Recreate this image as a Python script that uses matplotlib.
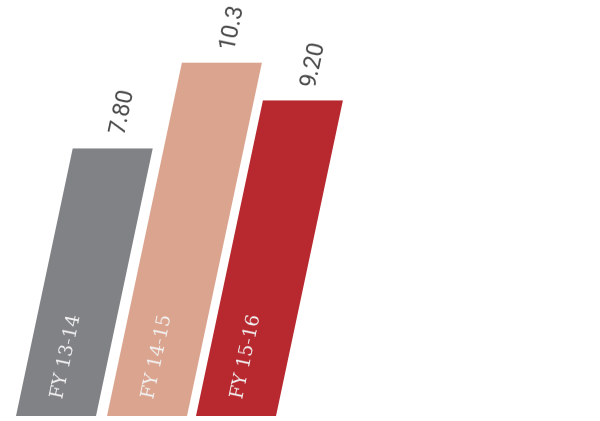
import numpy as np
import matplotlib
matplotlib.use('Agg')
from matplotlib import pyplot as plt

# fiscal years and their values
years = ['FY 13-14', 'FY 14-15', 'FY 15-16']
values = [7.80, 10.3, 9.20]
colors = ['#818286', '#dba48f', '#b8282f']

fig = plt.figure(figsize=(6, 4.21), dpi=100)
ax = fig.add_axes([0, 0, 1, 1])

px = 34.3            # pixels per unit of value
ax.set_xlim(0, 600)
ax.set_ylim(-5 / px, 416 / px)
ax.axis('off')

lefts = [16, 107, 196]   # bottom-left corner of each bar, in pixels
width = 80
slant = 0.212 * px       # horizontal shift per unit of height
angle = np.degrees(np.arctan2(px, slant))

for x0, v, c, name in zip(lefts, values, colors, years):
    xs = [x0, x0 + width, x0 + width + slant * v, x0 + slant * v]
    ys = [0, 0, v, v]
    ax.fill(xs, ys, color=c, lw=0)

    # value above the slanted top
    tx = x0 + width / 2 + slant * v + 10
    ty = v + 37 / px
    ax.text(tx, ty, f'{v:#.3g}', rotation=angle, ha='center', va='center',
            fontsize=17, family='Roboto', color='#4a4a4a')

    # year label inside the bar
    ly = 1.75
    lx = x0 + width / 2 + slant * ly - 2
    ax.text(lx, ly, name, rotation=angle, ha='center', va='center',
            fontsize=13.5, family='DejaVu Serif', color='#f2f2f2')

fig.savefig('out.png', dpi=100)
